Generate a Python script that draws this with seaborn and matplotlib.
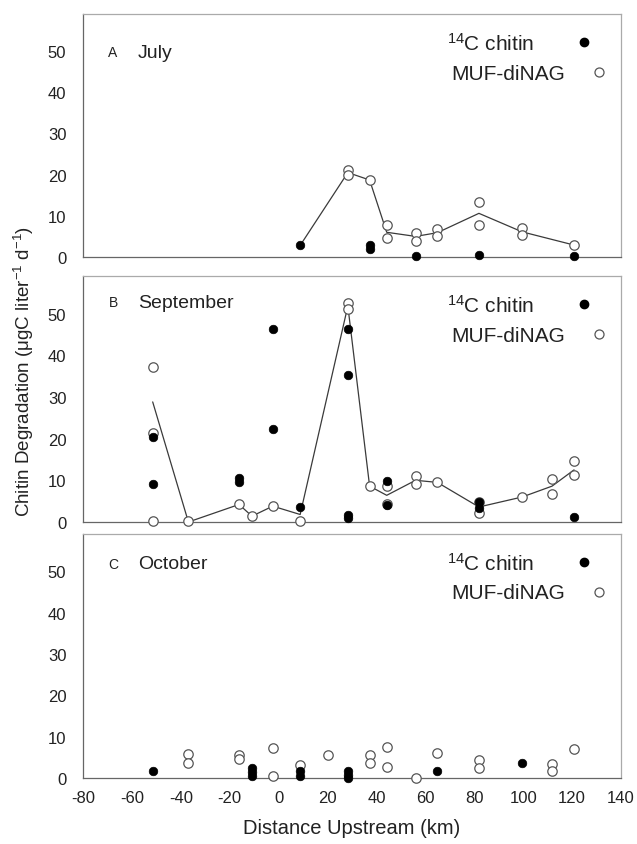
import numpy as np
import pandas as pd
import matplotlib
matplotlib.use("Agg")
import matplotlib.pyplot as plt
import seaborn as sns

# ---------------- data ----------------
# Panel A (July)
a_chitin_x = [8.8, 37.2, 37.2, 56.0, 81.9, 120.8]
a_chitin_y = [2.8, 2.8, 2.0, 0.2, 0.6, 0.2]
a_muf_x = [28.3, 28.3, 37.2, 44.2, 44.2, 56.0, 56.0, 64.9, 64.9, 81.9, 81.9, 99.6, 99.6, 120.8]
a_muf_y = [21.2, 19.8, 18.7, 7.8, 4.5, 5.8, 4.0, 6.7, 5.2, 13.4, 7.8, 7.0, 5.3, 2.9]
a_line_x = [8.8, 28.3, 37.2, 44.2, 56.0, 64.9, 81.9, 99.6, 120.8]
a_line_y = [2.8, 20.5, 18.7, 6.0, 5.0, 5.9, 10.6, 6.1, 2.9]

# Panel B (September)
b_chitin_x = [-51.5, -51.5, -16.2, -16.2, -2.4, -2.4, 8.8, 28.3, 28.3, 28.3, 28.3,
              44.2, 44.2, 81.9, 81.9, 120.8]
b_chitin_y = [20.3, 9.0, 10.6, 9.6, 46.3, 22.3, 3.6, 46.4, 35.2, 1.7, 1.0,
              9.8, 4.0, 4.8, 3.4, 1.2]
b_muf_x = [-51.5, -51.5, -51.5, -36.9, -16.2, -10.9, -2.4, 8.8, 28.3, 28.3, 37.2,
           44.2, 44.2, 56.0, 56.0, 64.9, 81.9, 81.9, 99.6, 111.8, 111.8, 120.8, 120.8]
b_muf_y = [37.1, 21.3, 0.2, 0.2, 4.2, 1.4, 3.8, 0.2, 52.5, 51.0, 8.6,
           8.6, 4.2, 11.0, 9.1, 9.5, 4.8, 2.2, 6.0, 10.2, 6.8, 14.7, 11.3]
b_line_x = [-51.5, -36.9, -16.2, -10.9, -2.4, 8.8, 28.3, 37.2, 44.2, 56.0, 64.9,
            81.9, 99.6, 111.8, 120.8]
b_line_y = [28.8, 0.0, 4.2, 1.4, 3.8, 1.8, 51.8, 8.6, 6.4, 10.0, 9.5,
            3.6, 6.0, 8.6, 12.5]

# Panel C (October)
c_chitin_x = [-51.2, -10.9, -10.9, -10.9, 8.8, 8.8, 28.3, 28.3, 28.3, 64.9, 99.6]
c_chitin_y = [1.6, 2.3, 1.4, 0.5, 1.6, 0.6, 1.6, 0.8, 0.1, 1.6, 3.7]
c_muf_x = [-36.9, -36.9, -16.2, -16.2, -2.4, -2.4, 8.8, 20.2, 37.2, 37.2, 44.2, 44.2,
           56.0, 64.9, 81.9, 81.9, 111.8, 111.8, 120.8]
c_muf_y = [5.9, 3.6, 5.5, 4.7, 7.3, 0.4, 3.2, 5.5, 5.5, 3.6, 7.6, 2.7,
           0.1, 6.0, 4.3, 2.4, 3.5, 1.6, 7.1]

panel_letters = ["A", "B", "C"]
panel_months = ["July", "September", "October"]
legend_labels = [r"$\mathregular{^{14}}$C chitin", "MUF-diNAG"]
x_ticks = [-80, -60, -40, -20, 0, 20, 40, 60, 80, 100, 120, 140]
y_ticks = [0, 10, 20, 30, 40, 50]
x_label = "Distance Upstream (km)"
y_label = r"Chitin Degradation ($\mathregular{\mu}$gC liter$\mathregular{^{-1}}$ d$\mathregular{^{-1}}$)"

# ---------------- style ----------------
sns.set_style("white")
plt.rcParams["font.family"] = ["Liberation Sans", "DejaVu Sans"]
plt.rcParams["mathtext.fontset"] = "custom"
plt.rcParams["mathtext.rm"] = "Liberation Sans"
plt.rcParams["mathtext.it"] = "Liberation Sans:italic"
plt.rcParams["mathtext.bf"] = "Liberation Sans:bold"
plt.rcParams["axes.unicode_minus"] = False

W, H = 637, 845
fig = plt.figure(figsize=(W / 100, H / 100), dpi=100)

left_px, right_px = 83, 621
panels_px = [(15, 258), (277, 523), (535, 779)]  # (top, bottom)
month_offsets = [38, 26, 30]

panels = [
    (a_chitin_x, a_chitin_y, a_muf_x, a_muf_y, a_line_x, a_line_y),
    (b_chitin_x, b_chitin_y, b_muf_x, b_muf_y, b_line_x, b_line_y),
    (c_chitin_x, c_chitin_y, c_muf_x, c_muf_y, None, None),
]

open_color = "#555555"
txt_color = "#222222"
axes = []
for i, ((top, bot), data) in enumerate(zip(panels_px, panels)):
    ax = fig.add_axes([left_px / W, 1 - bot / H, (right_px - left_px) / W, (bot - top) / H])
    axes.append(ax)
    cx, cy, mx, my, lx, ly = data
    if lx is not None:
        ldf = pd.DataFrame({"x": lx, "y": ly})
        sns.lineplot(data=ldf, x="x", y="y", ax=ax, color="#3a3a3a", lw=0.9,
                     estimator=None, sort=False, zorder=2)
    mdf = pd.DataFrame({"x": mx, "y": my})
    sns.scatterplot(data=mdf, x="x", y="y", ax=ax, marker="o", s=46,
                    facecolor="white", edgecolor=open_color, linewidth=0.9,
                    zorder=3, clip_on=False)
    cdf = pd.DataFrame({"x": cx, "y": cy})
    sns.scatterplot(data=cdf, x="x", y="y", ax=ax, marker="o", s=38,
                    color="black", edgecolor="black", linewidth=0.5,
                    zorder=4, clip_on=False)

    ax.set_xlim(-80, 140)
    ax.set_ylim(0, 59)
    ax.set_xticks(x_ticks)
    ax.set_yticks(y_ticks)
    ax.set_xlabel("")
    ax.set_ylabel("")
    ax.tick_params(axis="both", direction="out", length=3, width=0.6,
                   color="#777777", labelsize=12, labelcolor=txt_color)
    ax.tick_params(axis="y", pad=9)
    ax.tick_params(axis="x", pad=6)
    if i < 2:
        ax.tick_params(axis="x", labelbottom=False)
    for side in ["left", "bottom"]:
        ax.spines[side].set_color("#666666")
        ax.spines[side].set_linewidth(0.9)
    for side in ["top", "right"]:
        ax.spines[side].set_color("#aaaaaa")
        ax.spines[side].set_linewidth(0.9)

    h = bot - top
    wdt = right_px - left_px
    fx = lambda px: (px - left_px) / wdt
    fy = lambda py: 1 - py / h
    # panel label
    ax.text(fx(113), fy(month_offsets[i]), panel_letters[i],
            transform=ax.transAxes, fontsize=10, va="center", ha="center", color=txt_color)
    ax.text(fx(138), fy(month_offsets[i]), panel_months[i],
            transform=ax.transAxes, fontsize=14, va="center", ha="left", color=txt_color)

    # legend (text left, marker right)
    ax.text(fx(447), fy(29), legend_labels[0], transform=ax.transAxes,
            fontsize=15, va="center", ha="left", color=txt_color)
    ax.text(fx(451), fy(59), legend_labels[1], transform=ax.transAxes,
            fontsize=15, va="center", ha="left", color=txt_color)
    ax.plot([fx(584)], [fy(28)], transform=ax.transAxes, marker="o", ls="",
            color="black", markersize=6, clip_on=False)
    ax.plot([fx(599)], [fy(58)], transform=ax.transAxes, marker="o", ls="",
            markerfacecolor="white", markeredgecolor=open_color,
            markeredgewidth=0.9, markersize=6.5, clip_on=False)

axes[2].set_xlabel(x_label, fontsize=14.5, color=txt_color, labelpad=9)
fig.text(24 / W, 1 - 372 / H, y_label, rotation=90, fontsize=13.5,
         va="center", ha="center", color=txt_color)

fig.savefig("out.png", dpi=100)
